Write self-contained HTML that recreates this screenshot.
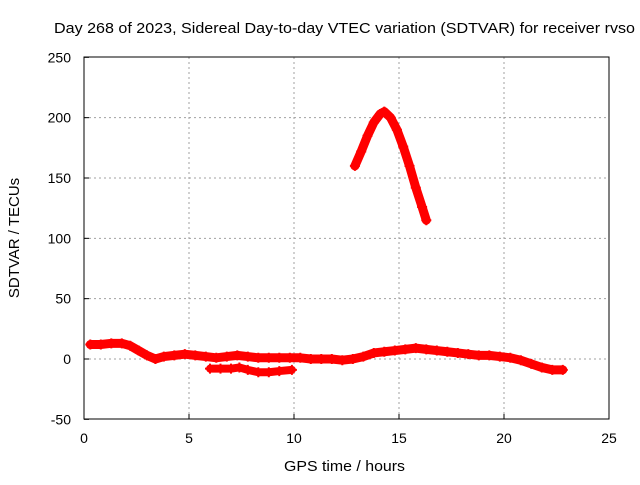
<!DOCTYPE html>
<html><head><meta charset="utf-8"><style>
body{margin:0;background:#fff;}
svg text{font-family:"Liberation Sans",sans-serif;font-size:14px;fill:#000;}
</style></head><body>
<svg width="640" height="480">
<text x="54" y="33" textLength="581" lengthAdjust="spacingAndGlyphs" style="font-size:15px">Day 268 of 2023, Sidereal Day-to-day VTEC variation (SDTVAR) for receiver rvso</text>
<g id="grid"></g>
<rect x="84" y="57" width="525" height="362" fill="none" stroke="#000" stroke-width="1"/>
<g id="ticks"></g>
<g id="marks"></g>
<text x="284" y="471" textLength="121" lengthAdjust="spacingAndGlyphs" style="font-size:15px">GPS time / hours</text>
<text transform="translate(19,238) rotate(-90)" text-anchor="middle" style="font-size:15px">SDTVAR / TECUs</text>
</svg>
<script>
const xTicks=[0,5,10,15,20,25];
const yTicks=[-50,0,50,100,150,200,250];
const mainHours=[0.3,0.8,1.3,1.8,2.2,2.6,3.0,3.4,3.8,4.3,4.8,5.3,5.8,6.3,6.8,7.3,7.8,8.3,8.8,9.3,9.8,10.3,10.8,11.3,11.8,12.3,12.8,13.3,13.8,14.3,14.8,15.3,15.8,16.3,16.8,17.3,17.8,18.3,18.8,19.3,19.8,20.3,20.8,21.3,21.8,22.3,22.8];
const mainValues=[12,12,13,13,11,7,3,0,2,3,4,3,2,1,2,3,2,1,1,1,1,1,0,0,0,-1,0,2,5,6,7,8,9,8,7,6,5,4,3,3,2,1,-1,-4,-7,-9,-9];
const lowHours=[6.0,6.5,7.0,7.4,7.8,8.3,8.8,9.3,9.9];
const lowValues=[-8,-8,-8,-7,-9,-11,-11,-10,-9];
const peakHours=[12.9,13.2,13.5,13.8,14.1,14.3,14.6,14.9,15.2,15.5,15.8,16.1,16.3];
const peakValues=[160,172,185,196,203,205,200,190,176,160,142,126,115];
const NS="http://www.w3.org/2000/svg";
const X=h=>84+h*21;
const Y=v=>359-v*362/300;
const grid=document.getElementById('grid'),ticks=document.getElementById('ticks'),marks=document.getElementById('marks');
function mk(tag,attrs,parent){const e=document.createElementNS(NS,tag);for(const k in attrs)e.setAttribute(k,attrs[k]);parent.appendChild(e);return e;}
xTicks.forEach(t=>{
  if(t>0&&t<25){const l=mk('line',{x1:X(t),x2:X(t),y1:57,y2:419,stroke:'#a0a0a0','stroke-dasharray':'2,3'},grid);
  
  }
  const tk=mk('line',{x1:X(t),x2:X(t),y1:419,y2:414,stroke:'#000'},ticks);
  
  
  const tx=mk('text',{x:X(t),y:443,'text-anchor':'middle'},ticks);tx.textContent=t;
  
  
});
yTicks.forEach(t=>{
  if(t>-50&&t<250){const l=mk('line',{x1:84,x2:609,y1:Y(t),y2:Y(t),stroke:'#a0a0a0','stroke-dasharray':'2,3'},grid);
  
  }
  const tk=mk('line',{x1:84,x2:89,y1:Y(t),y2:Y(t),stroke:'#000'},ticks);
  
  
  const tx=mk('text',{x:71,y:Y(t)+5,'text-anchor':'end'},ticks);tx.textContent=t;
  
  
});
function series(hs,vs,name,w){
  const p=mk('polyline',{points:hs.map((h,i)=>X(h)+','+Y(vs[i])).join(' '),fill:'none',stroke:'#ff0000','stroke-width':w,'stroke-linejoin':'round','stroke-linecap':'round'},marks);
  
  
  hs.forEach((h,i)=>{const c=mk('path',{d:`M${X(h)-5},${Y(vs[i])}h10M${X(h)},${Y(vs[i])-5}v10`,stroke:'#ff0000','stroke-width':2},marks);
    
    });
}
series(mainHours,mainValues,'main-series',9);
series(lowHours,lowValues,'lower-series',8);
series(peakHours,peakValues,'peak-series',9);
</script>
</body></html>
